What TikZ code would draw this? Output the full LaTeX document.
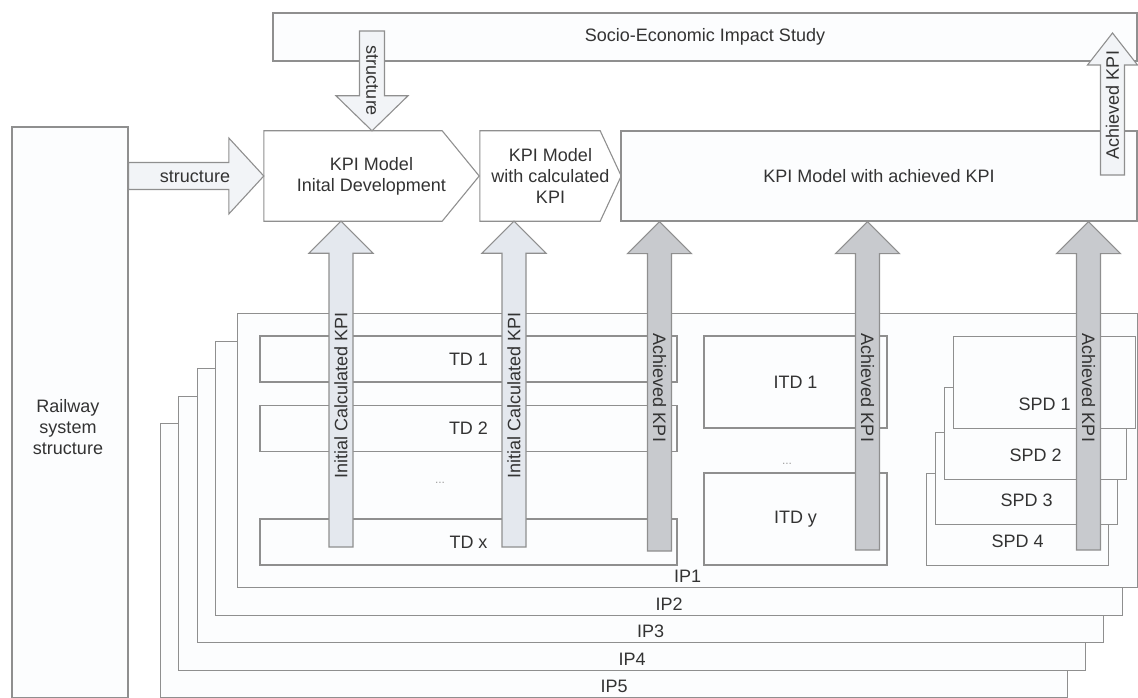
\documentclass[tikz,border=0pt]{standalone}
\usepackage{fontspec}
\setmainfont{Liberation Sans}
\usetikzlibrary{positioning,calc}
\definecolor{edge}{gray}{0.56}
\definecolor{boxfill}{HTML}{FCFDFE}
\definecolor{ink}{gray}{0.2}
\definecolor{kpilight}{HTML}{E4E8EE}
\definecolor{kpidark}{HTML}{C8CACE}
\definecolor{arrfill}{HTML}{F2F4F7}
\tikzset{
  box/.style={draw=edge,fill=boxfill,line width=1.1pt,inner sep=0pt,
              text=ink,align=center},
  txt/.style={text=ink,inner sep=1pt,align=center},
  vtxt/.style={txt,rotate=90},
  vtxtd/.style={txt,rotate=-90},
  dots/.style={text=gray!75,inner sep=0pt,font=\fontsize{12}{12}\selectfont},
  blk/.style={draw=edge,line width=1.1pt,line join=miter},
  uparr/.style={blk,to path={let \p1=(\tikztostart),\p2=(\tikztotarget) in
    (\x1-12pt,\y1) -- (\x1-12pt,\y2-32pt) -- (\x1-#1pt,\y2-32pt) -- (\x1,\y2)
    -- (\x1+#1pt,\y2-32pt) -- (\x1+12pt,\y2-32pt) -- (\x1+12pt,\y1) -- cycle}},
  uparr/.default=32,
  dnarr/.style={blk,to path={let \p1=(\tikztostart),\p2=(\tikztotarget) in
    (\x1-12.5pt,\y1) -- (\x1-12.5pt,\y2+35pt) -- (\x1-36pt,\y2+35pt) -- (\x1,\y2)
    -- (\x1+36pt,\y2+35pt) -- (\x1+12.5pt,\y2+35pt) -- (\x1+12.5pt,\y1) -- cycle}},
  rtarr/.style={blk,to path={let \p1=(\tikztostart),\p2=(\tikztotarget) in
    (\x1,\y1+13.5pt) -- (\x2-35pt,\y1+13.5pt) -- (\x2-35pt,\y1+38pt) -- (\x2,\y1)
    -- (\x2-35pt,\y1-38pt) -- (\x2-35pt,\y1-13.5pt) -- (\x1,\y1-13.5pt) -- cycle}},
}

\begin{document}
\begin{tikzpicture}[x=1pt,y=-1pt,font=\fontsize{18}{21}\selectfont]
  \useasboundingbox (0,0) rectangle (1138,698);
  % top row
  \node[box,minimum width=864pt,minimum height=48pt] (socio) at (705,37)
    {Socio-Economic Impact Study};
  \node[box,minimum width=116pt,minimum height=571pt] (rail) at (70,412.5) {};
  \node[txt] (railtxt) at (68,427) {Railway\\system\\structure};
  \node[txt,minimum width=215pt,minimum height=90pt] (kpiinit) at (371.5,176)
    {KPI Model\\Inital Development};
  \node[txt,minimum width=141pt,minimum height=90pt] (kpicalc) at (550.5,176)
    {KPI Model\\with calculated\\KPI};
  \foreach \n/\d in {kpiinit/37,kpicalc/21}
    \draw[blk] (\n.north west) -- ([xshift=-\d pt]\n.north east) -- (\n.east)
      -- ([xshift=-\d pt]\n.south east) -- (\n.south west) -- cycle;
  \node[box,minimum width=516pt,minimum height=90pt] (kpiach) at (879,176)
    {KPI Model with achieved KPI};
  % IP layers
  \foreach \k/\l/\t/\r in {5/160/423/1067,4/178/396/1085,3/197/368/1103,
                           2/215/341/1122,1/237/313/1137}{
    \node[box,anchor=north west,minimum width={(\r-\l)*1pt},minimum height=274pt]
      (ip\k) at (\l,\t) {};
    \node[txt,anchor=south] (ipl\k) at ([yshift=4pt]ip\k.south) {IP\k};
  }
  % TD, ITD, SPD
  \foreach \n/\y in {1/359,2/428.5,x/542}
    \node[box,minimum width=417pt,minimum height=46pt] (td\n) at (468.5,\y) {TD \n};
  \node[dots] (tddots) at (440,483) {...};
  \foreach \n/\y in {1/382,y/519}
    \node[box,minimum width=183pt,minimum height=92pt] (itd\n) at (795.5,\y) {ITD \n};
  \node[dots] (itddots) at (787,464) {...};
  \foreach \k/\l/\t in {4/926/473,3/935/432,2/944/387,1/953/336}{
    \node[box,anchor=north west,minimum width=182pt,minimum height=92pt]
      (spd\k) at (\l,\t) {};
    \node[txt] (spdl\k) at ([yshift=25pt]spd\k.south) {SPD \k};
  }
  % KPI arrows
  \coordinate (a1) at (341,547);
  \coordinate (a2) at (514,547);
  \coordinate (a3) at (659.5,551);
  \coordinate (a4) at (867.5,550);
  \coordinate (a5) at (1088.5,550);
  \draw[uparr,fill=kpilight] (a1) to (kpiinit.south -| a1);
  \draw[uparr,fill=kpilight] (a2) to (kpicalc.south -| a2);
  \foreach \c in {a3,a4,a5}
    \draw[uparr,fill=kpidark] (\c) to (kpiach.south -| \c);
  \node[vtxt] (l1) at (341,395) {Initial Calculated KPI};
  \node[vtxt] (l2) at (514,395) {Initial Calculated KPI};
  \foreach \c/\x in {3/659.5,4/867.5,5/1088.5}
    \node[vtxtd] (l\c) at (\x,388) {Achieved KPI};
  % structure and study arrows
  \coordinate (s1) at (372,31);
  \draw[dnarr,fill=arrfill] (s1) to (kpiinit.north -| s1);
  \node[vtxtd] (ls) at (372,81) {structure};
  \draw[rtarr,fill=arrfill] (rail.east |- kpiinit.west) to (kpiinit.west);
  \node[txt] (lr) at (195,177) {structure};
  \coordinate (t1) at (1112.5,175);
  \draw[uparr=25,fill=arrfill] (t1) to ($(socio.center -| t1)+(0,-4)$);
  \node[vtxt] (lt) at (1112.5,105) {Achieved KPI};
\end{tikzpicture}
\end{document}
